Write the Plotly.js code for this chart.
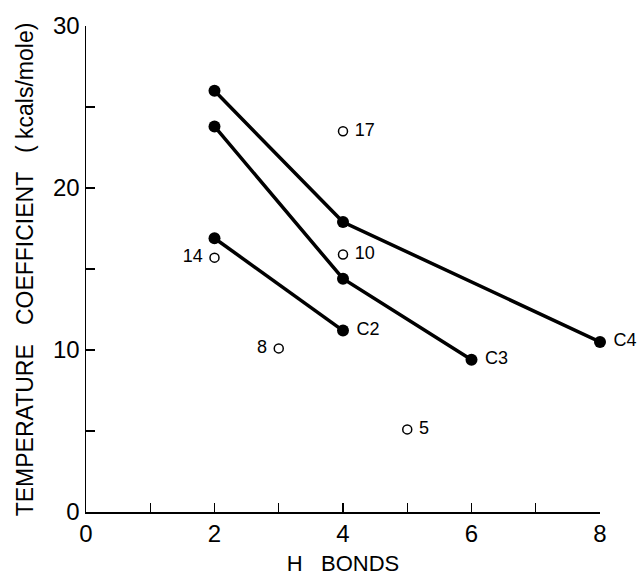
<!DOCTYPE html>
<html>
<head>
<meta charset="utf-8">
<script src="https://cdn.plot.ly/plotly-3.0.1.min.js"></script>
<style>html,body{margin:0;padding:0;background:#fff;}#chart{width:640px;height:576px;}</style>
</head>
<body>
<div id="chart"></div>
<script>
// Closed-circle series (H bonds vs temperature coefficient)
const c4X = [2, 4, 8];
const c4Y = [26.0, 17.9, 10.5];
const c3X = [2, 4, 6];
const c3Y = [23.8, 14.4, 9.4];
const c2X = [2, 4];
const c2Y = [16.9, 11.2];
const seriesNames = ["C2", "C3", "C4"];

// Open-circle points
const openX = [4, 4, 2, 3, 5];
const openY = [23.5, 15.9, 15.7, 10.1, 5.1];
const openLabels = ["17", "10", "14", "8", "5"];
const openLabelPos = ["middle right", "middle right", "middle left", "middle left", "middle right"];

const xTickVals = [0, 2, 4, 6, 8];
const yTickVals = [0, 10, 20, 30];
const xTitle = "H   BONDS";
const yTitle = "TEMPERATURE   COEFFICIENT   ( kcals/mole)";

const font = "Liberation Sans, DejaVu Sans, sans-serif";

function lastLabel(arr, name) {
  return arr.map((v, i) => i === arr.length - 1 ? " " + name : "");
}

const lineStyle = {color: "#000", width: 3.5};
const markerStyle = {color: "#000", size: 12};
const labelFont = {family: font, size: 18, color: "#000"};

const traces = [
  {x: c4X, y: c4Y, mode: "lines+markers+text", line: lineStyle, marker: markerStyle,
   text: lastLabel(c4X, seriesNames[2]), textposition: "middle right",
   textfont: labelFont, cliponaxis: false},
  {x: c3X, y: c3Y, mode: "lines+markers+text", line: lineStyle, marker: markerStyle,
   text: lastLabel(c3X, seriesNames[1]), textposition: "middle right",
   textfont: labelFont, cliponaxis: false},
  {x: c2X, y: c2Y, mode: "lines+markers+text", line: lineStyle, marker: markerStyle,
   text: lastLabel(c2X, seriesNames[0]), textposition: "middle right",
   textfont: labelFont, cliponaxis: false},
  {x: openX, y: openY, mode: "markers+text",
   marker: {color: "#fff", size: 9, line: {color: "#000", width: 1.5}},
   text: openLabels.map((t, i) => openLabelPos[i] === "middle left" ? t + " " : " " + t),
   textposition: openLabelPos,
   textfont: labelFont, cliponaxis: false}
];

const layout = {
  width: 640, height: 576,
  margin: {l: 86, r: 40, t: 26, b: 64},
  paper_bgcolor: "#fff", plot_bgcolor: "#fff",
  showlegend: false,
  font: {family: font, color: "#000"},
  xaxis: {
    range: [0, 8], tickvals: xTickVals, ticktext: xTickVals.map(String),
    ticks: "inside", ticklen: 9, tickwidth: 1.2, tickcolor: "#000",
    minor: {dtick: 1, tick0: 0, ticks: "inside", ticklen: 9, tickwidth: 1.2, tickcolor: "#000"},
    showline: true, linecolor: "#000", linewidth: 1.5, mirror: false,
    showgrid: false, zeroline: false,
    tickfont: {family: font, size: 24},
    title: {text: xTitle, font: {family: font, size: 22}, standoff: 10}
  },
  yaxis: {
    range: [0, 30], tickvals: yTickVals, ticktext: yTickVals.map(String),
    ticks: "inside", ticklen: 9, tickwidth: 1.2, tickcolor: "#000",
    minor: {dtick: 5, tick0: 0, ticks: "inside", ticklen: 9, tickwidth: 1.2, tickcolor: "#000"},
    showline: true, linecolor: "#000", linewidth: 1.5, mirror: false,
    showgrid: false, zeroline: false,
    tickfont: {family: font, size: 24}
  },
  annotations: [{
    text: yTitle, textangle: -90, showarrow: false,
    xref: "paper", yref: "paper", x: -0.118, y: 0.5,
    xanchor: "center", yanchor: "middle",
    font: {family: font, size: 23, color: "#000"}
  }]
};

Plotly.newPlot("chart", traces, layout, {displayModeBar: false, staticPlot: true});
</script>
</body>
</html>
